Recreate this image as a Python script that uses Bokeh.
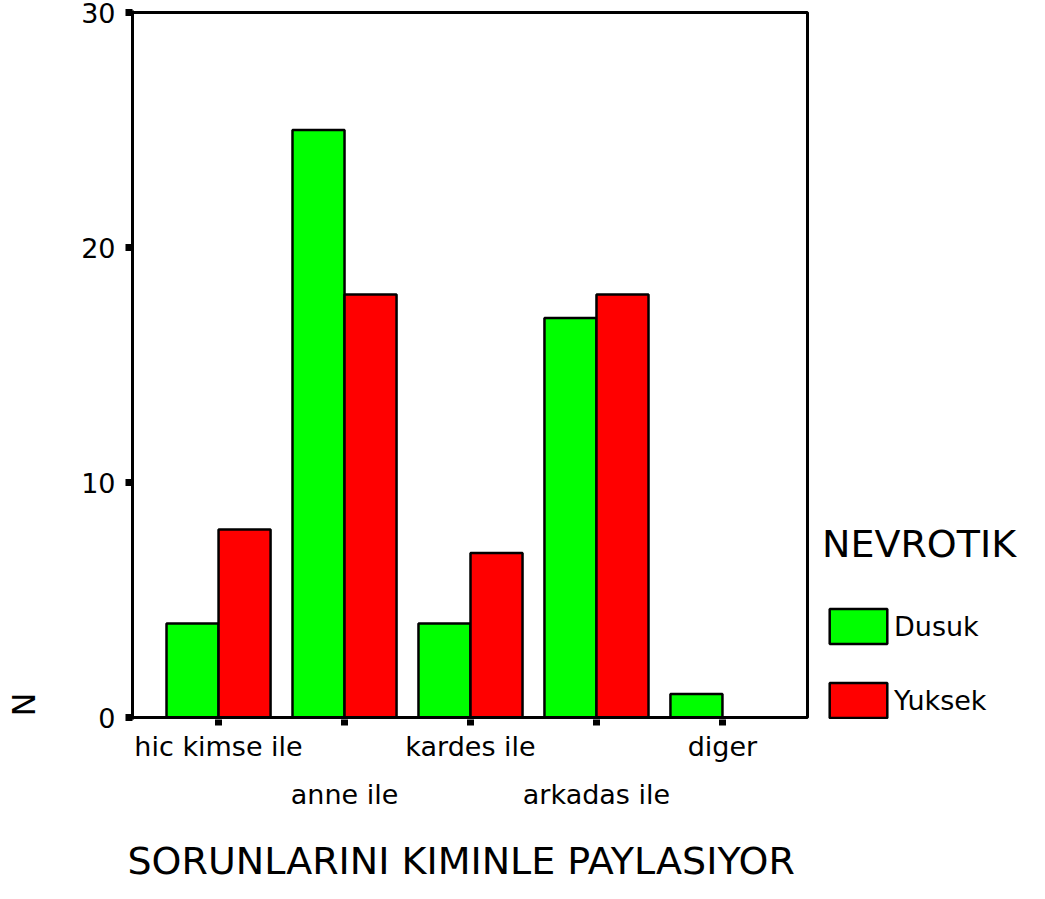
from bokeh.plotting import figure
from bokeh.models import (Range1d, FixedTicker, Legend, LegendItem, ColumnDataSource, Title,
                          BoxAnnotation)
from bokeh.transform import dodge
from bokeh.embed import file_html
from bokeh.resources import INLINE

categories = ["hic kimse ile", "anne ile", "kardes ile", "arkadas ile", "diger"]
dusuk = [4, 25, 4, 17, 1]
yuksek = [8, 18, 7, 18, 0]
series_names = ["Dusuk", "Yuksek"]
y_ticks = [0, 10, 20, 30]
x_title = "SORUNLARINI KIMINLE PAYLASIYOR"
y_title = "N"
legend_title = "NEVROTIK"

FONT = "DejaVu Sans"
GREEN = "#00ff00"
RED = "#ff0000"

# layout geometry (pixels)
W, H = 1029, 883
LEFT, TOP, BOTTOM = 132, 10, 164
INNER_W = 675            # width of the boxed plot area
FRAME_W = W - LEFT       # frame extends under the legend area
X0, X1 = -0.683, 4.675   # boxed plot area in category units
Y0, Y1 = 0, 30
x_end = X0 + (X1 - X0) * FRAME_W / INNER_W
px_per_y = 705 / (Y1 - Y0)
y_pad_top = 2 / px_per_y
y_pad_bot = 2 / px_per_y

src = ColumnDataSource(dict(x=list(range(len(categories))), dusuk=dusuk, yuksek=yuksek))

p = figure(width=W, height=H, x_range=Range1d(X0, x_end),
           y_range=Range1d(Y0 - y_pad_bot, Y1 + y_pad_top),
           output_backend="svg", toolbar_location=None,
           min_border_left=LEFT, min_border_right=0, min_border_top=TOP,
           min_border_bottom=BOTTOM)
p.xgrid.visible = False
p.ygrid.visible = False
p.outline_line_color = None
p.background_fill_color = "white"
p.border_fill_color = "white"

# boxed plot area
p.add_layout(BoxAnnotation(left=X0, right=X1, bottom=Y0, top=Y1, fill_alpha=0,
                           line_color="black", line_alpha=1.0, line_width=3))

bw = 0.413
rg = p.vbar(x=dodge("x", -bw / 2, range=p.x_range), top="dusuk", width=bw, source=src,
            fill_color=GREEN, line_color="black", line_width=2.5)
rr = p.vbar(x=dodge("x", bw / 2, range=p.x_range), top="yuksek", width=bw, source=src,
            fill_color=RED, line_color="black", line_width=2.5)

# axes
p.xaxis.ticker = FixedTicker(ticks=list(range(len(categories))))
overrides = {}
for i, c in enumerate(categories):
    overrides[i] = c if i % 2 == 0 else "\n" + c
p.xaxis.major_label_overrides = overrides
p.xaxis.major_label_text_line_height = 1.58
p.yaxis.ticker = FixedTicker(ticks=y_ticks)
for ax in (p.xaxis[0], p.yaxis[0]):
    ax.axis_line_width = 3
    ax.axis_line_color = "black"
    ax.major_tick_in = 0
    ax.major_tick_out = 7
    ax.major_tick_line_width = 7
    ax.major_tick_line_color = "black"
    ax.minor_tick_out = 0
    ax.minor_tick_in = 0
    ax.major_label_text_font = FONT
    ax.major_label_text_font_size = "27px"
    ax.major_label_text_color = "black"
p.xaxis.axis_line_color = None
p.xaxis.major_label_standoff = 5
p.yaxis.major_label_standoff = 10
p.xaxis.major_tick_out = 6

p.add_layout(Title(text="\n" + x_title, align="left", offset=-5, vertical_align="bottom",
                   text_font=FONT, text_font_size="38px", text_font_style="normal",
                   text_line_height=0.54, text_color="black", standoff=0), "below")

p.add_layout(Title(text=y_title + "\n", align="left", offset=3, vertical_align="top",
                   text_font=FONT, text_font_size="32px", text_line_height=0.84,
                   text_font_style="normal", text_color="black", standoff=4), "left")

legend = Legend(items=[LegendItem(label=series_names[0], renderers=[rg]),
                       LegendItem(label=series_names[1], renderers=[rr])],
                location=(690, -3), orientation="vertical",
                title=legend_title, title_text_font=FONT, title_text_font_size="38px",
                title_text_font_style="normal", title_text_color="black", title_standoff=38,
                glyph_width=72, glyph_height=44, label_standoff=0, spacing=30,
                label_width=135, label_height=44,
                padding=0, margin=0, border_line_alpha=0, background_fill_alpha=0,
                label_text_font=FONT, label_text_font_size="27px", label_text_color="black")
p.add_layout(legend, "center")

open("out.html", "w").write(file_html(p, INLINE))
